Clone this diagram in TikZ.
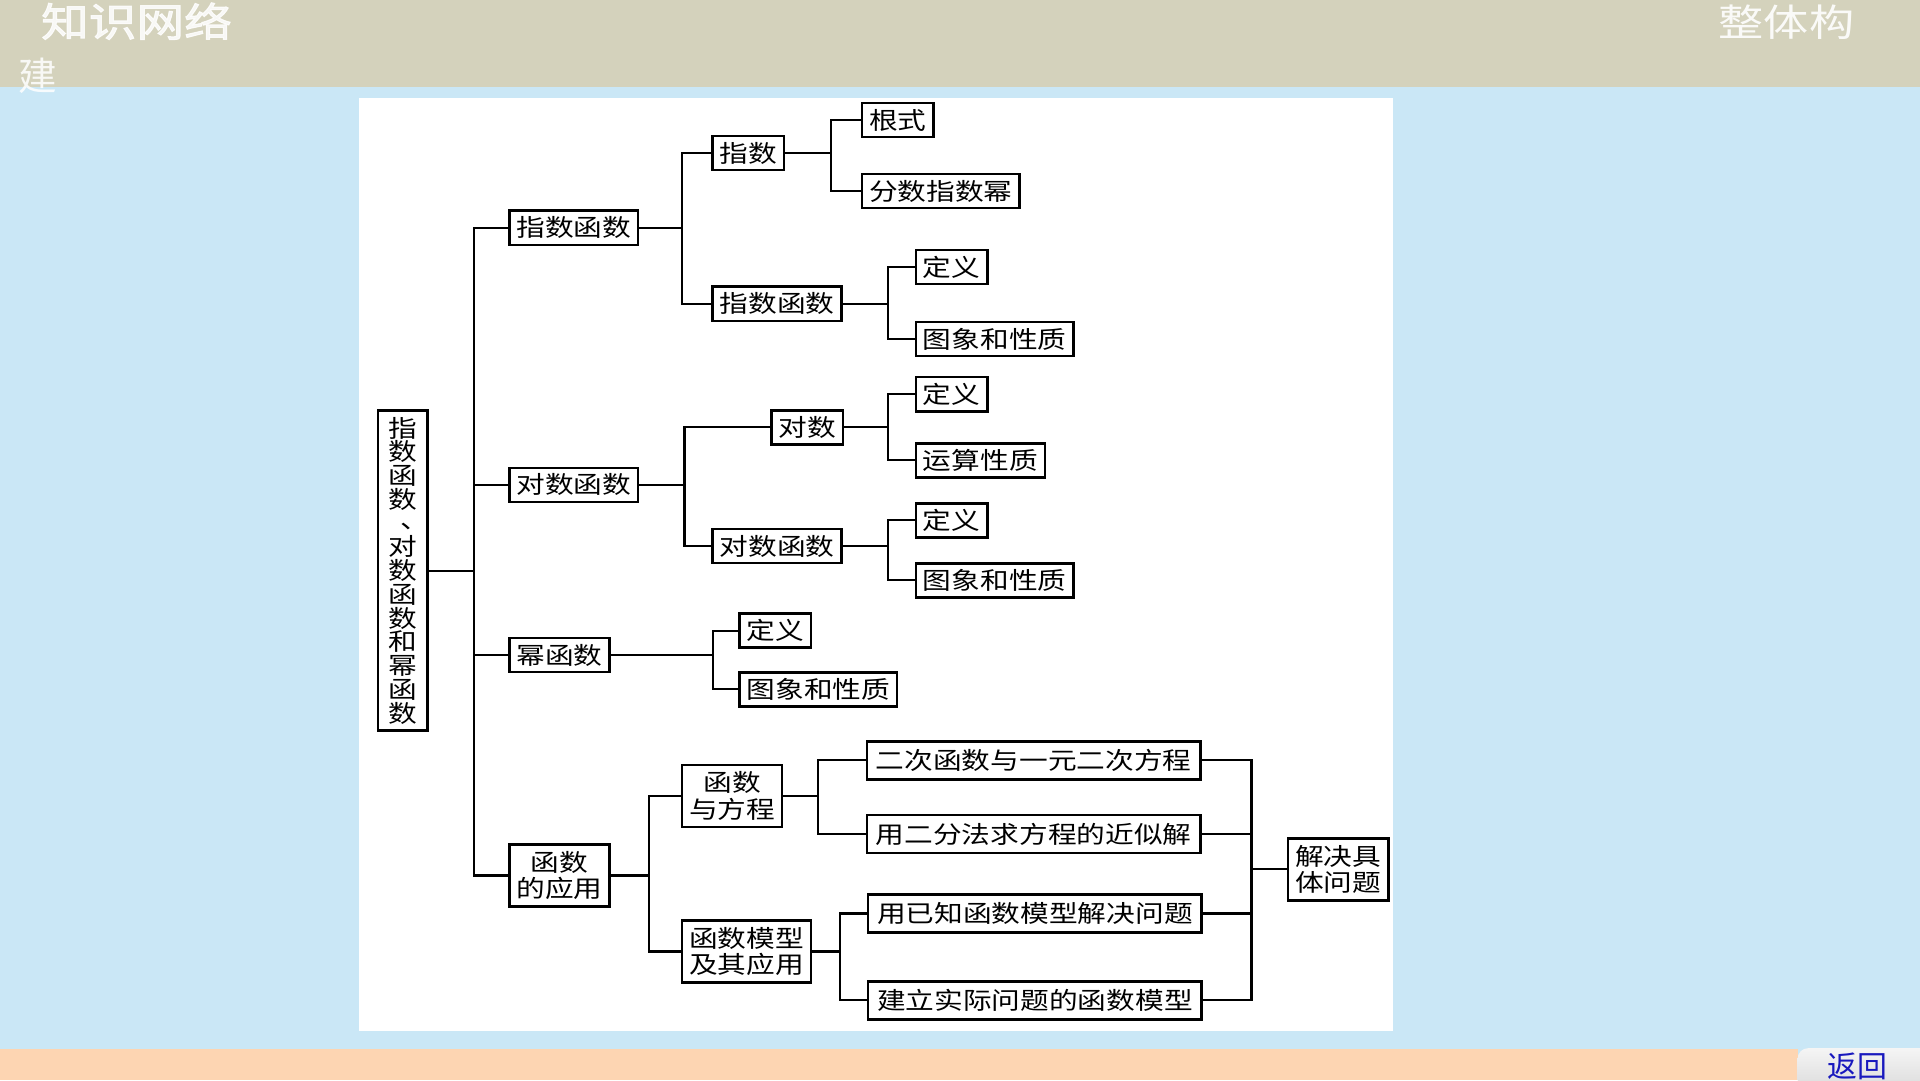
\documentclass[tikz,border=0pt]{standalone}
\usepackage{fontspec}
\newfontfamily\cjk{Noto Sans CJK SC}[FakeStretch=1.2]
\newfontfamily\cjktitle{Noto Sans CJK SC}[FakeStretch=1.2,FakeBold=2.5]
\newfontfamily\cjkplain{Noto Sans CJK SC}
\definecolor{bandtop}{RGB}{212,210,188}
\definecolor{slideblue}{RGB}{202,231,246}
\definecolor{bandbottom}{RGB}{253,213,178}
\definecolor{backblue}{RGB}{25,25,190}
\begin{document}
\begin{tikzpicture}[x=0.012245cm,y=-0.012245cm,
    box/.style={draw,line width=0.7pt,fill=white,anchor=west,inner xsep=2pt,inner ysep=0pt,
      minimum height=9.7pt,font=\cjk\fontsize{6.8pt}{7.6pt}\selectfont},
    twobox/.style={box,align=center,minimum height=17.7pt},
    widebox/.style={box,minimum width=94.8pt,minimum height=10.8pt},
    link/.style={line width=0.6pt}]
      \useasboundingbox (0,0) rectangle (1568,882);
      \fill[slideblue] (0,0) rectangle (1568,882);
      \fill[bandtop] (0,0) rectangle (1568,71);
      \fill[bandbottom] (0,857) rectangle (1468,882);
      \shade[top color=gray!8,bottom color=gray!28,rounded corners=3pt] (1468,856) rectangle (1580,890);
      \fill[white] (293,80) rectangle (1138,842);
      \node[anchor=south west,inner sep=0,text=white,opacity=0.85,font=\cjktitle\fontsize{11.3pt}{12pt}\selectfont] (ttl) at (33,33) {知识网络};
      \node[inner sep=0,text=white,opacity=0.85,font=\cjkplain\fontsize{11pt}{12pt}\selectfont] (ttl2) at (31,62) {建};
      \node[anchor=south west,inner sep=0,text=white,opacity=0.9,font=\cjk\fontsize{10.7pt}{12pt}\selectfont] (ttl3) at (1403,33) {整体构};
      \node[anchor=north,inner sep=0,text=backblue,font=\cjkplain\fontsize{8.5pt}{9pt}\selectfont] (back) at (1517,859) {返回};

      \node[box,anchor=center,align=center,minimum width=14pt,minimum height=91pt,
        font=\cjk\fontsize{6.8pt}{6.75pt}\selectfont] (root) at (329,466)
        {指\\数\\函\\数\\\raisebox{0.15em}{\hspace*{0.5em}、\hspace*{-0.5em}}\\对\\数\\函\\数\\和\\幂\\函\\数};
      \node[box] (zs) at (415,186) {指数函数};
      \node[box] (ds) at (415,396) {对数函数};
      \node[box] (mi) at (415,535) {幂函数};
      \node[twobox] (yy) at (415,715) {函数\\的应用};
      \node[box] (zs1) at (581,125) {指数};
      \node[box] (zs2) at (581,248) {指数函数};
      \node[box] (ds1) at (629,349) {对数};
      \node[box] (ds2) at (581,446) {对数函数};
      \node[twobox] (yy1) at (556,650) {函数\\与方程};
      \node[twobox] (yy2) at (556,777) {函数模型\\及其应用};
      \node[box] (gs) at (703,98) {根式};
      \node[box] (fs) at (703,156) {分数指数幂};
      \node[box] (dy1) at (747,218) {定义};
      \node[box] (tx1) at (747,277) {图象和性质};
      \node[box] (dy2) at (747,322) {定义};
      \node[box] (ys) at (747,376) {运算性质};
      \node[box] (dy3) at (747,425) {定义};
      \node[box] (tx2) at (747,474) {图象和性质};
      \node[box] (dy4) at (603,515) {定义};
      \node[box] (tx3) at (603,563) {图象和性质};
      \node[widebox] (fc1) at (707,621) {二次函数与一元二次方程};
      \node[widebox] (fc2) at (707,681) {用二分法求方程的近似解};
      \node[widebox] (mx1) at (708,746) {用已知函数模型解决问题};
      \node[widebox] (mx2) at (708,817) {建立实际问题的函数模型};
      \node[twobox] (jj) at (1051,710) {解决具\\体问题};

      \coordinate (t0) at (387,466);
      \coordinate (a0) at (557,186);
      \coordinate (a1) at (679,125);
      \coordinate (a2) at (725,248);
      \coordinate (b0) at (559,396);
      \coordinate (b1) at (725,349);
      \coordinate (b2) at (725,446);
      \coordinate (c0) at (582,535);
      \coordinate (d0) at (530,715);
      \coordinate (d1) at (668,650);
      \coordinate (d2) at (686,777);
      \coordinate (m0) at (1022,710);

      \draw[link] (root.east) -- (t0);
      \draw[link] (t0) |- (zs.west);
      \draw[link] (t0) |- (ds.west);
      \draw[link] (t0) |- (mi.west);
      \draw[link] (t0) |- (yy.west);
      \draw[link] (zs.east) -- (a0) |- (zs1.west);
      \draw[link] (a0) |- (zs2.west);
      \draw[link] (zs1.east) -- (a1) |- (gs.west);
      \draw[link] (a1) |- (fs.west);
      \draw[link] (zs2.east) -- (a2) |- (dy1.west);
      \draw[link] (a2) |- (tx1.west);
      \draw[link] (ds.east) -- (b0) |- (ds1.west);
      \draw[link] (b0) |- (ds2.west);
      \draw[link] (ds1.east) -- (b1) |- (dy2.west);
      \draw[link] (b1) |- (ys.west);
      \draw[link] (ds2.east) -- (b2) |- (dy3.west);
      \draw[link] (b2) |- (tx2.west);
      \draw[link] (mi.east) -- (c0) |- (dy4.west);
      \draw[link] (c0) |- (tx3.west);
      \draw[link] (yy.east) -- (d0) |- (yy1.west);
      \draw[link] (d0) |- (yy2.west);
      \draw[link] (yy1.east) -- (d1) |- (fc1.west);
      \draw[link] (d1) |- (fc2.west);
      \draw[link] (yy2.east) -- (d2) |- (mx1.west);
      \draw[link] (d2) |- (mx2.west);
      \draw[link] (fc1.east) -| (m0);
      \draw[link] (fc2.east) -| (m0);
      \draw[link] (mx1.east) -| (m0);
      \draw[link] (mx2.east) -| (m0);
      \draw[link] (m0) -- (jj.west);
    \end{tikzpicture}
\end{document}
